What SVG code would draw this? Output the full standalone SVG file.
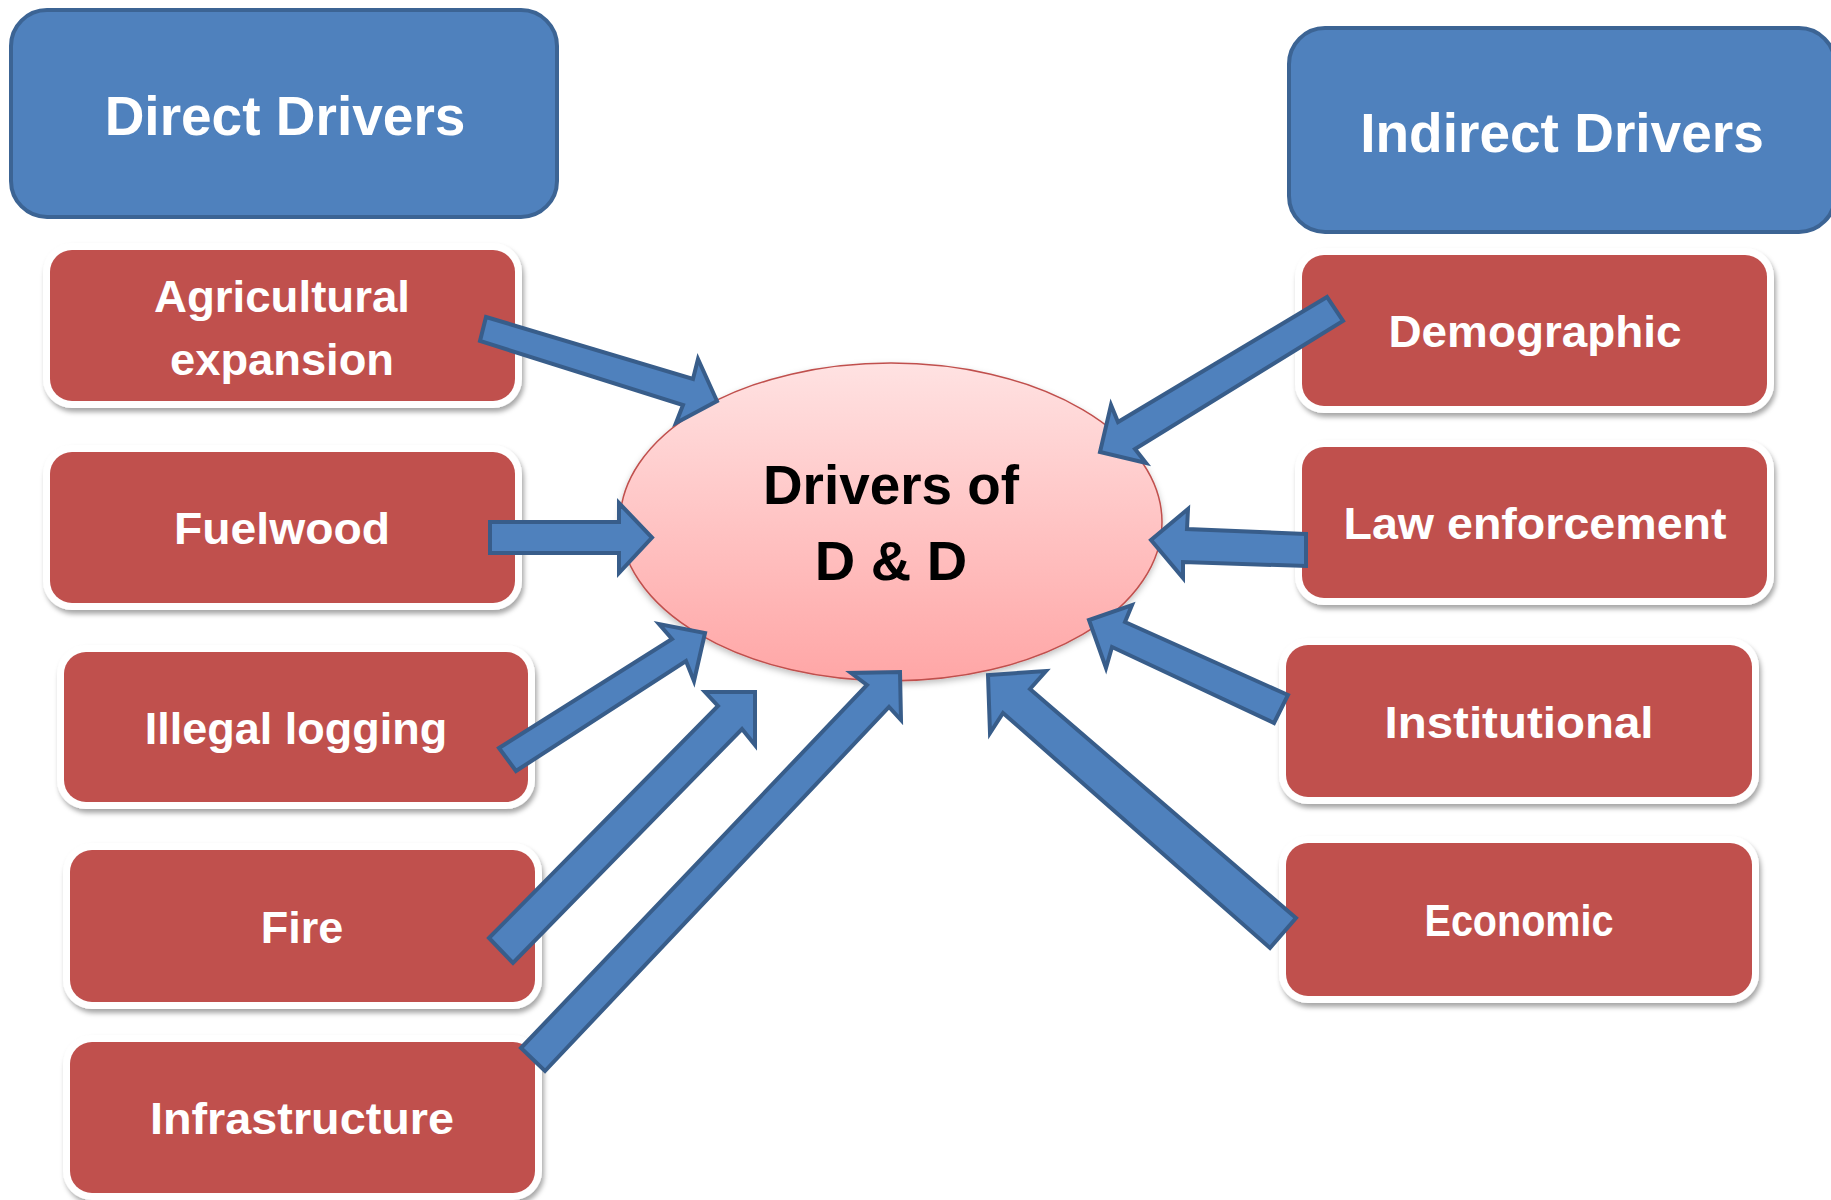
<svg xmlns="http://www.w3.org/2000/svg" width="1831" height="1200" viewBox="0 0 1831 1200">
<defs>
<linearGradient id="ellGrad" x1="0" y1="0" x2="0" y2="1">
<stop offset="0" stop-color="#ffe2e2"/>
<stop offset="1" stop-color="#ffa6a6"/>
</linearGradient>
<filter id="shadow" x="-10%" y="-10%" width="125%" height="130%">
<feDropShadow dx="2" dy="4" stdDeviation="2.5" flood-color="#000" flood-opacity="0.35"/>
</filter>
<filter id="eshadow" x="-10%" y="-10%" width="125%" height="130%">
<feDropShadow dx="0" dy="3" stdDeviation="3" flood-color="#000" flood-opacity="0.25"/>
</filter>
</defs>
<style>
.blue{fill:#4f81bd;stroke:#3c6494;stroke-width:4}
.frame{fill:#ffffff;filter:url(#shadow)}
.red{fill:#c0504d}
.hd{font-family:"Liberation Sans",Arial,sans-serif;font-weight:bold;font-size:55px;fill:#ffffff;text-anchor:middle}
.lb{font-family:"Liberation Sans",Arial,sans-serif;font-weight:bold;font-size:45px;fill:#ffffff;text-anchor:middle}
.ct{font-family:"Liberation Sans",Arial,sans-serif;font-weight:bold;font-size:56px;fill:#000000;text-anchor:middle}
.arrow{fill:#4f81bd;stroke:#385d8a;stroke-width:4;stroke-linejoin:miter}
</style>
<rect x="0" y="0" width="1831" height="1200" fill="#ffffff"/>

<g id="direct-drivers">
<rect class="blue" x="11" y="10" width="546" height="207" rx="36"/>
<text class="hd" x="285" y="135">Direct Drivers</text>
</g>
<g id="indirect-drivers">
<rect class="blue" x="1289" y="28" width="546" height="204" rx="36"/>
<text class="hd" x="1562" y="152">Indirect Drivers</text>
</g>

<g id="agricultural">
<rect class="frame" x="43" y="243" width="479" height="165" rx="29"/>
<rect class="red" x="50" y="250" width="465" height="151" rx="22"/>
<text class="lb" x="282" y="312" textLength="256" lengthAdjust="spacingAndGlyphs">Agricultural</text>
<text class="lb" x="282" y="375" textLength="224" lengthAdjust="spacingAndGlyphs">expansion</text>
</g>
<g id="fuelwood">
<rect class="frame" x="43" y="445" width="479" height="165" rx="29"/>
<rect class="red" x="50" y="452" width="465" height="151" rx="22"/>
<text class="lb" x="282" y="544" textLength="216" lengthAdjust="spacingAndGlyphs">Fuelwood</text>
</g>
<g id="illegal-logging">
<rect class="frame" x="57" y="645" width="478" height="164" rx="29"/>
<rect class="red" x="64" y="652" width="464" height="150" rx="22"/>
<text class="lb" x="296" y="744">Illegal logging</text>
</g>
<g id="fire">
<rect class="frame" x="63" y="843" width="479" height="166" rx="29"/>
<rect class="red" x="70" y="850" width="465" height="152" rx="22"/>
<text class="lb" x="302" y="943">Fire</text>
</g>
<g id="infrastructure">
<rect class="frame" x="63" y="1035" width="479" height="165" rx="29"/>
<rect class="red" x="70" y="1042" width="465" height="151" rx="22"/>
<text class="lb" x="302" y="1134" textLength="304" lengthAdjust="spacingAndGlyphs">Infrastructure</text>
</g>

<g id="demographic">
<rect class="frame" x="1295" y="248" width="479" height="165" rx="29"/>
<rect class="red" x="1302" y="255" width="465" height="151" rx="22"/>
<text class="lb" x="1535" y="347" textLength="293" lengthAdjust="spacingAndGlyphs">Demographic</text>
</g>
<g id="law-enforcement">
<rect class="frame" x="1295" y="440" width="479" height="165" rx="29"/>
<rect class="red" x="1302" y="447" width="465" height="151" rx="22"/>
<text class="lb" x="1535" y="539" textLength="383" lengthAdjust="spacingAndGlyphs">Law enforcement</text>
</g>
<g id="institutional">
<rect class="frame" x="1279" y="638" width="480" height="166" rx="29"/>
<rect class="red" x="1286" y="645" width="466" height="152" rx="22"/>
<text class="lb" x="1519" y="738" textLength="269" lengthAdjust="spacingAndGlyphs">Institutional</text>
</g>
<g id="economic">
<rect class="frame" x="1279" y="836" width="480" height="167" rx="29"/>
<rect class="red" x="1286" y="843" width="466" height="153" rx="22"/>
<text class="lb" x="1519" y="936" textLength="189" lengthAdjust="spacingAndGlyphs">Economic</text>
</g>

<g id="drivers-dd">
<ellipse cx="891" cy="522" rx="271" ry="159" fill="url(#ellGrad)" stroke="#c0504d" stroke-width="1.5" filter="url(#eshadow)"/>
<text class="ct" x="891" y="504" textLength="256" lengthAdjust="spacingAndGlyphs">Drivers of</text>
<text class="ct" x="891" y="580">D &amp; D</text>
</g>

<g id="connectors">
<polygon class="arrow" points="486,317 693,379 698,359 717,401 676,423 683,405 480,341"/>
<polygon class="arrow" points="490,522 619,522 619,503 652,537.5 619,573 619,553 490,553"/>
<polygon class="arrow" points="499,748 672,639 659,624 705,633 694,681 686,661 516,771"/>
<polygon class="arrow" points="489,938 718,706 705,692 755,692 755,745 742,729 513,963"/>
<polygon class="arrow" points="521,1048 867,685 851,673 900,672 901,720 889,707 545,1071"/>
<polygon class="arrow" points="1327,297 1118,422 1111,405 1100,452 1146,463 1135,449 1343,321"/>
<polygon class="arrow" points="1306,534 1187,529 1188,509 1151,540 1183,578 1183,562 1306,566"/>
<polygon class="arrow" points="1288,695 1125,622 1132,605 1089,620 1106,668 1112,647 1274,723"/>
<polygon class="arrow" points="1296,918 1030,689 1046,671 988,675 990,733 1003,713 1270,948"/>
</g>
</svg>
